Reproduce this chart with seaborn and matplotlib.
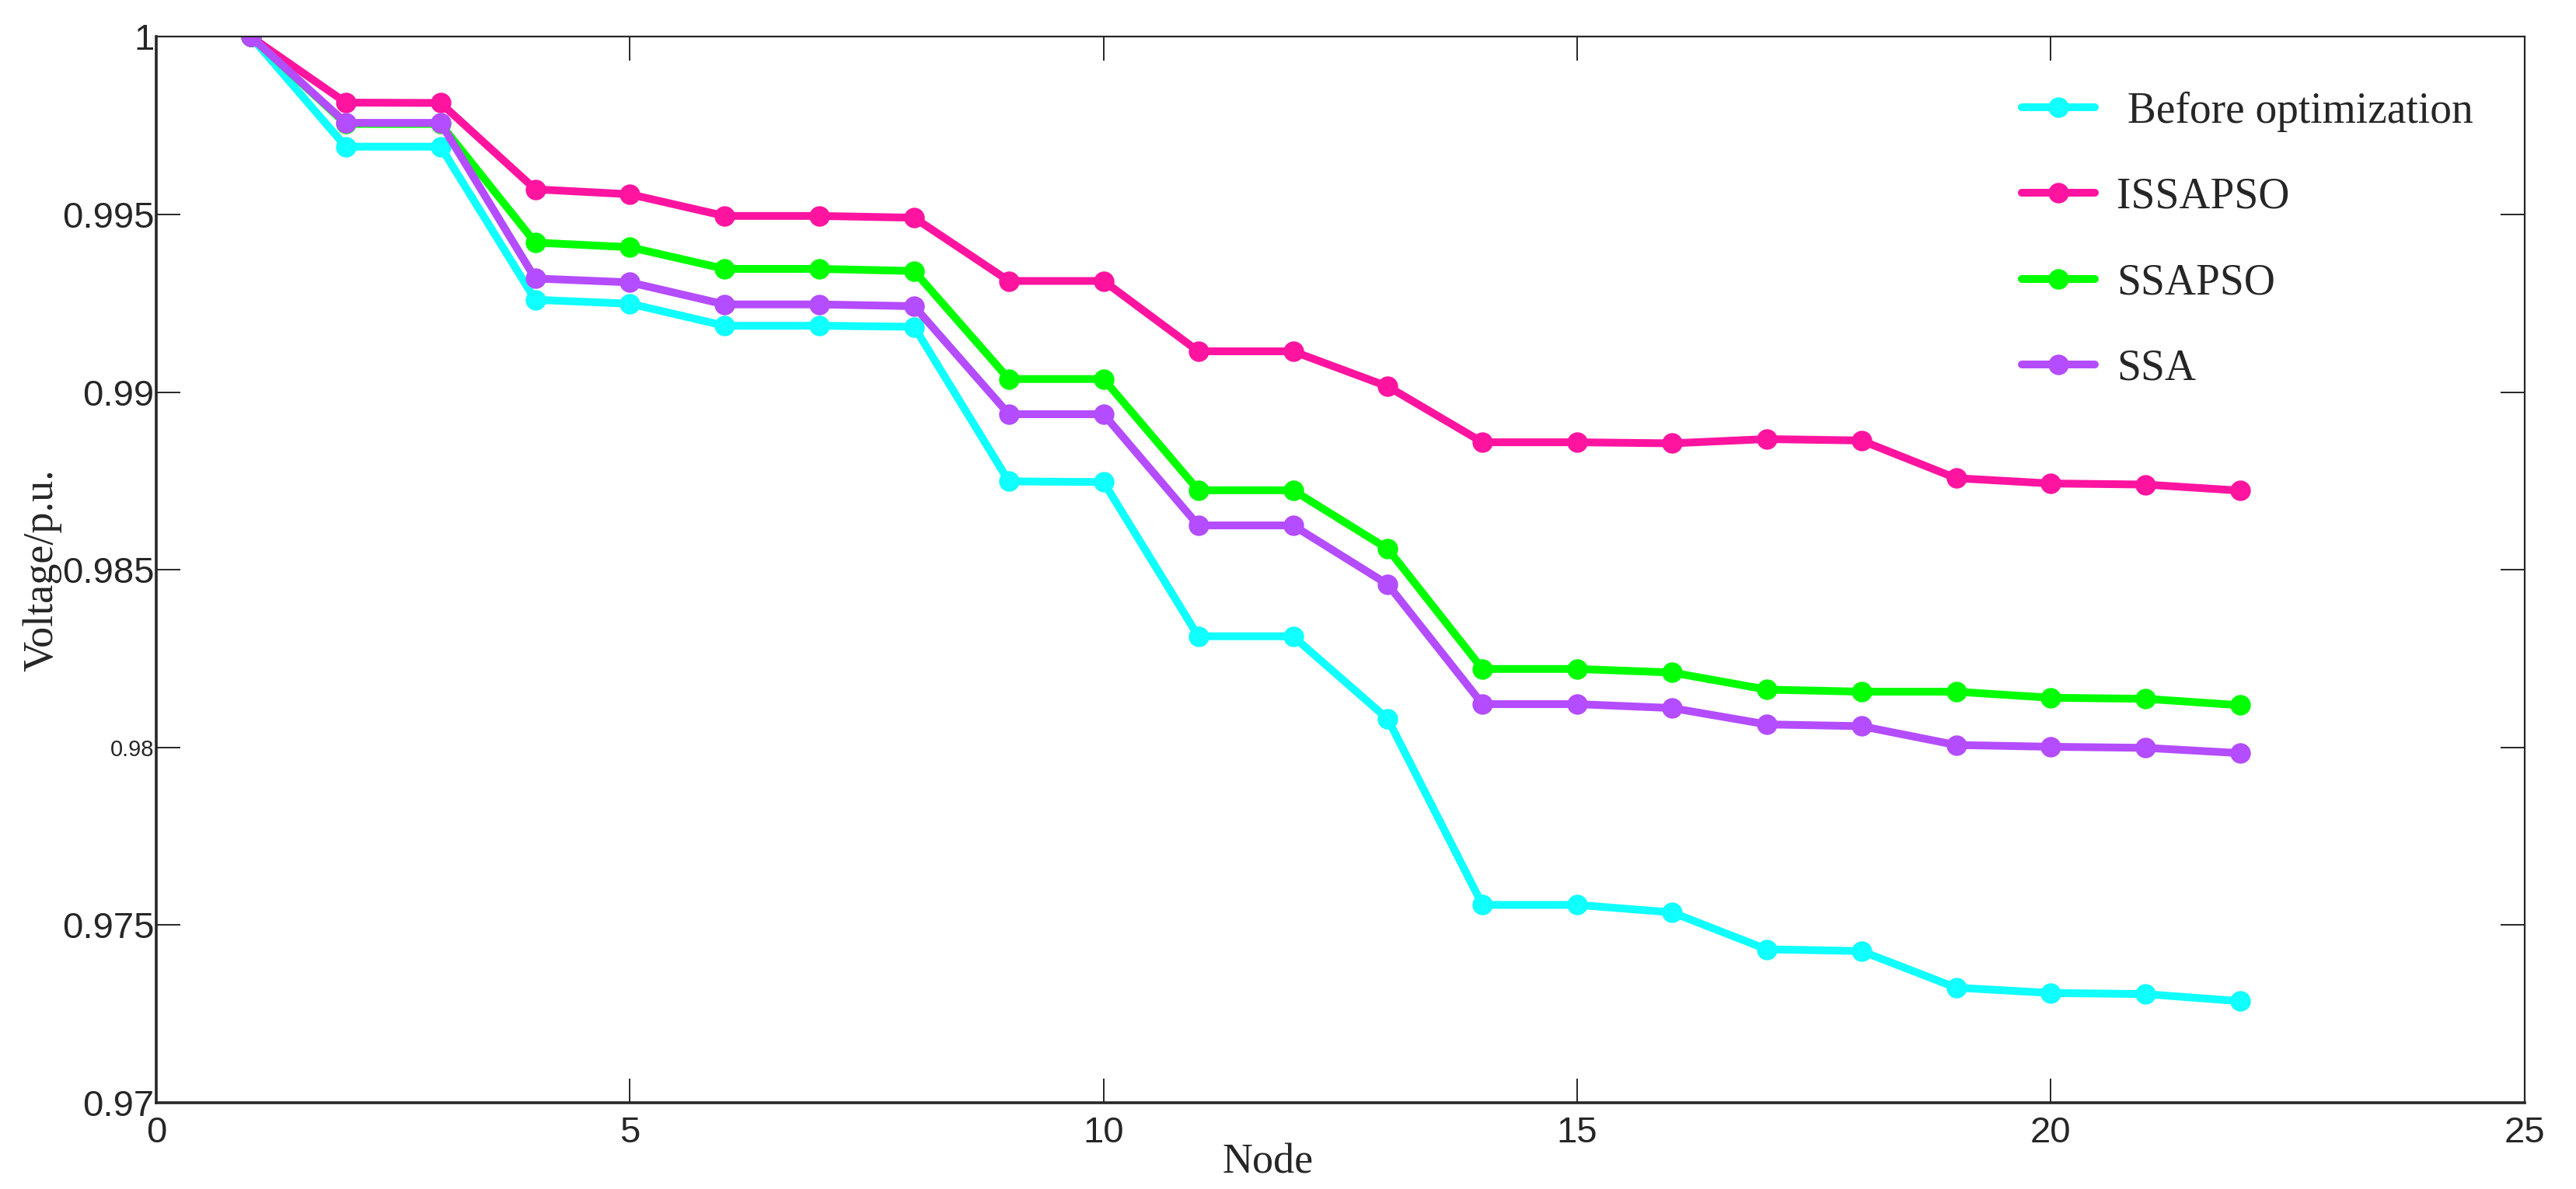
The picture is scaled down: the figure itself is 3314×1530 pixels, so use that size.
import numpy as np
import matplotlib
matplotlib.use("Agg")
import matplotlib.pyplot as plt
import seaborn as sns
import pandas as pd

# Valeurs
nodes = list(range(1, 23))
methods = [" Before optimization", "ISSAPSO", "SSAPSO", "SSA"]
colors = ["#10FFFF", "#FF14A0", "#00FF00", "#B44CFF"]

before_opt = [1.0, 0.99691, 0.99691, 0.99260, 0.99249, 0.99187, 0.99187, 0.99184,
              0.98749, 0.98747, 0.98313, 0.98313, 0.98080, 0.97557, 0.97557, 0.97536,
              0.97432, 0.97427, 0.97324, 0.97309, 0.97306, 0.97286]
issapso = [1.0, 0.99815, 0.99814, 0.99571, 0.99557, 0.99496, 0.99496, 0.99491,
           0.99313, 0.99313, 0.99115, 0.99115, 0.99016, 0.98859, 0.98859, 0.98856,
           0.98868, 0.98864, 0.98758, 0.98743, 0.98740, 0.98723]
ssapso = [1.0, 0.99755, 0.99755, 0.99421, 0.99408, 0.99347, 0.99347, 0.99341,
          0.99037, 0.99037, 0.98724, 0.98724, 0.98559, 0.98221, 0.98221, 0.98211,
          0.98163, 0.98157, 0.98157, 0.98140, 0.98137, 0.98119]
ssa = [1.0, 0.99758, 0.99758, 0.99320, 0.99309, 0.99247, 0.99247, 0.99242,
       0.98938, 0.98938, 0.98625, 0.98625, 0.98459, 0.98122, 0.98122, 0.98111,
       0.98065, 0.98060, 0.98007, 0.98002, 0.97999, 0.97984]

x_ticks = [0, 5, 10, 15, 20, 25]
y_ticks = [0.97, 0.975, 0.98, 0.985, 0.99, 0.995, 1.0]
y_tick_labels = ["0.97", "0.975", "0.98", "0.985", "0.99", "0.995", "1"]

# Tableau long pour seaborn
df = pd.concat([
    pd.DataFrame({"Node": nodes, "Voltage": v, "Method": m})
    for m, v in zip(methods, [before_opt, issapso, ssapso, ssa])
], ignore_index=True)

sns.set_style("ticks")
plt.rcParams["font.family"] = ["Liberation Sans", "DejaVu Sans"]
plt.rcParams["axes.edgecolor"] = "#262626"
plt.rcParams["xtick.color"] = "#262626"
plt.rcParams["ytick.color"] = "#262626"

fig = plt.figure(figsize=(16.57, 7.65), dpi=200)
ax = fig.add_axes([0.0607, 0.0725, 0.9193, 0.8965])

sns.lineplot(data=df, x="Node", y="Voltage", hue="Method", hue_order=methods,
             palette=colors, marker="o", markersize=9.5, markeredgewidth=0,
             linewidth=3.6, ax=ax)

ax.set_xlim(0, 25)
ax.set_ylim(0.97, 1.0)
ax.set_xticks(x_ticks)
ax.set_xticklabels([str(t) for t in x_ticks])
ax.set_yticks(y_ticks)
ax.set_yticklabels(y_tick_labels)
ax.tick_params(direction="in", length=11, width=0.7, labelsize=17,
               top=True, right=True)
ax.tick_params(axis="x", pad=6)
ax.tick_params(axis="y", pad=1)
for lab in ax.get_yticklabels():
    if lab.get_text() == "0.98":
        lab.set_fontsize(10.5)

for s in ["left", "bottom"]:
    ax.spines[s].set_linewidth(1.3)
for s in ["top", "right"]:
    ax.spines[s].set_linewidth(0.8)

ax.set_xlabel("Node", family="Liberation Serif", fontsize=19.5)
ax.set_ylabel("Voltage/p.u.", family="Liberation Serif", fontsize=19.5)
ax.xaxis.set_label_coords(0.4695, -0.038)
ax.yaxis.set_label_coords(-0.040, 0.5)

handles, labels = ax.get_legend_handles_labels()
ax.legend(handles, labels, loc="upper left", bbox_to_anchor=(0.7876, 0.949),
          frameon=False, borderpad=0, borderaxespad=0, handlelength=1.7,
          handletextpad=0.5, labelspacing=1.05,
          prop={"family": "Liberation Serif", "size": 20})

fig.savefig("out.png", dpi=200)
